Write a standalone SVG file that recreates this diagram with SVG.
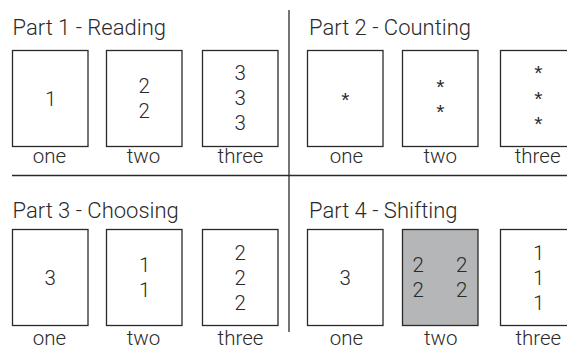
<svg xmlns="http://www.w3.org/2000/svg" width="567" height="348" viewBox="0 0 567 348">
<style>
.bg{fill:#ffffff}
.box{fill:#ffffff;stroke:#2a2a2a;stroke-width:1.3}
.shade{fill:#b4b6b8}
.div{stroke:#2a2a2a;stroke-width:1.3;fill:none}
text{font-family:Roboto,"Liberation Sans",Arial,sans-serif;font-weight:300;fill:#2a2a2a}
.title{font-size:22px}
.lbl{font-size:20.5px;text-anchor:middle}
.num{font-size:20.5px;text-anchor:middle}
.one{text-rendering:geometricPrecision}
.ast{font-family:"Liberation Sans",Arial,sans-serif;font-weight:400;font-size:21px;text-anchor:middle}
</style>
<rect class="bg" x="0" y="0" width="567" height="348"/>
<g id="dividers">
<line class="div" x1="289" y1="10" x2="289" y2="332"/>
<line class="div" x1="12" y1="175.5" x2="567" y2="175.5"/>
</g>
<g id="part1">
<text class="title" x="12.5" y="35">Part 1 - Reading</text>
<g id="p1-one"><rect class="box" x="12.5" y="50.5" width="75.5" height="96"/><text class="num one" x="50.75" y="105.7">1</text><text class="lbl" x="49.5" y="163.3">one</text></g>
<g id="p1-two"><rect class="box" x="106.5" y="50.5" width="75.5" height="96"/><text class="num" x="144.25" y="93.2">2</text><text class="num" x="144.25" y="118.2">2</text><text class="lbl" x="143.5" y="163.3">two</text></g>
<g id="p1-three"><rect class="box" x="202.5" y="50.5" width="75.5" height="96"/><text class="num" x="240.25" y="79.5">3</text><text class="num" x="240.25" y="104.5">3</text><text class="num" x="240.25" y="129.5">3</text><text class="lbl" x="240.5" y="163.3">three</text></g>
</g>
<g id="part2">
<text class="title" x="309" y="35">Part 2 - Counting</text>
<g id="p2-one"><rect class="box" x="307.5" y="50.5" width="75.5" height="96"/><text class="ast" x="345.25" y="107">*</text><text class="lbl" x="346.5" y="163.3">one</text></g>
<g id="p2-two"><rect class="box" x="402.5" y="50.5" width="75.5" height="96"/><text class="ast" x="440.25" y="93.7">*</text><text class="ast" x="440.25" y="119.3">*</text><text class="lbl" x="440.2" y="163.3">two</text></g>
<g id="p2-three"><rect class="box" x="500.5" y="50.5" width="75.5" height="96"/><text class="ast" x="538.25" y="80.3">*</text><text class="ast" x="538.25" y="106">*</text><text class="ast" x="538.25" y="131.3">*</text><text class="lbl" x="537.6" y="163.3">three</text></g>
</g>
<g id="part3">
<text class="title" x="12.5" y="218.3">Part 3 - Choosing</text>
<g id="p3-one"><rect class="box" x="12.5" y="229.5" width="75.5" height="96"/><text class="num" x="50.25" y="284.7">3</text><text class="lbl" x="49.5" y="345">one</text></g>
<g id="p3-two"><rect class="box" x="106.5" y="229.5" width="75.5" height="96"/><text class="num one" x="144.75" y="272.2">1</text><text class="num one" x="144.75" y="297.2">1</text><text class="lbl" x="143.5" y="345">two</text></g>
<g id="p3-three"><rect class="box" x="202.5" y="229.5" width="75.5" height="96"/><text class="num" x="240.25" y="259.7">2</text><text class="num" x="240.25" y="284.7">2</text><text class="num" x="240.25" y="309.7">2</text><text class="lbl" x="240.5" y="345">three</text></g>
</g>
<g id="part4">
<text class="title" x="309" y="218.3">Part 4 - Shifting</text>
<g id="p4-one"><rect class="box" x="307.5" y="229.5" width="75.5" height="96"/><text class="num" x="345.25" y="284.7">3</text><text class="lbl" x="346.5" y="345">one</text></g>
<g id="p4-two"><rect class="box shade" x="402.5" y="229.5" width="75.5" height="96"/><text class="num" x="418.3" y="272.2">2</text><text class="num" x="461.7" y="272.2">2</text><text class="num" x="418.3" y="297.2">2</text><text class="num" x="461.7" y="297.2">2</text><text class="lbl" x="440.7" y="345">two</text></g>
<g id="p4-three"><rect class="box" x="500.5" y="229.5" width="75.5" height="96"/><text class="num one" x="538.75" y="259.7">1</text><text class="num one" x="538.75" y="284.7">1</text><text class="num one" x="538.75" y="309.7">1</text><text class="lbl" x="538.3" y="345">three</text></g>
</g>
</svg>
